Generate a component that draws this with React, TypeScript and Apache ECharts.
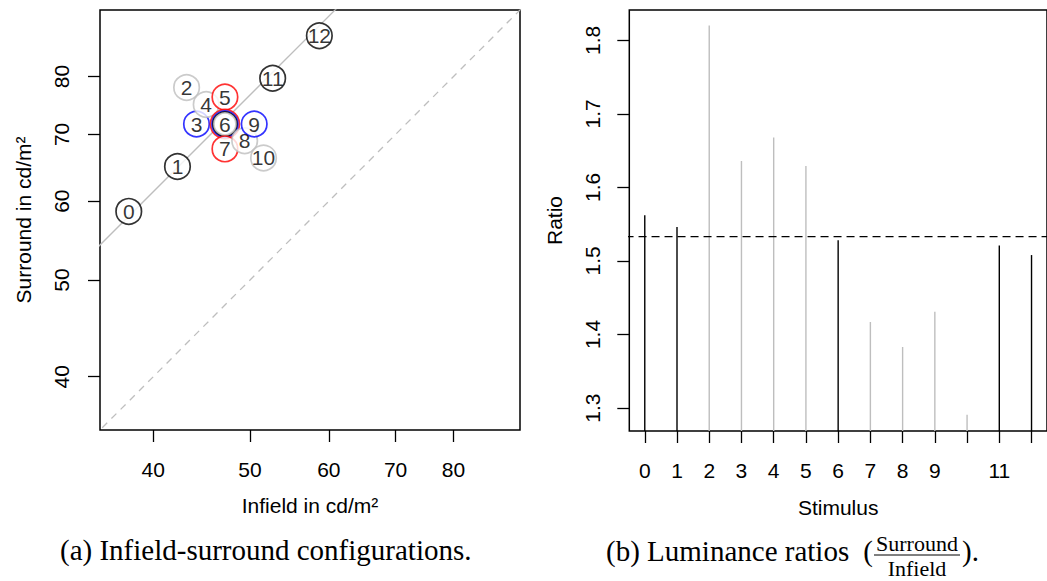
import React, { useEffect, useRef } from 'react';
import * as echarts from 'echarts';

// ---- data ----
const stimuli = [0, 1, 2, 3, 4, 5, 6, 7, 8, 9, 10, 11, 12];
const infield = [37.8, 42.3, 43.2, 44.2, 45.2, 47.2, 47.2, 47.2, 49.4, 50.5, 51.6, 52.7, 58.7];
const surround = [58.6, 65.0, 78.0, 71.7, 75.0, 76.3, 71.7, 67.7, 69.0, 71.7, 66.3, 79.7, 87.9];
const groups = ['black', 'black', 'grey', 'blue', 'grey', 'red', 'all', 'red', 'grey', 'blue', 'grey', 'black', 'black'];
const ratios = [1.562, 1.546, 1.820, 1.636, 1.668, 1.629, 1.528, 1.417, 1.383, 1.431, 1.291, 1.521, 1.508];
const meanRatio = 1.533;
const luminanceTicks = [40, 50, 60, 70, 80];
const ratioTicks = [1.3, 1.4, 1.5, 1.6, 1.7, 1.8];
const stimulusTicks = [0, 1, 2, 3, 4, 5, 6, 7, 8, 9, 10, 11, 12];
const stimulusLabels = [0, 1, 2, 3, 4, 5, 6, 7, 8, 9, 11];

const COLORS: Record<string, string> = { black: '#000000', grey: '#bebebe', blue: '#0000ff', red: '#ff0000' };
const SANS = '"Liberation Sans", Arial, sans-serif';
const SERIF = '"Liberation Serif", "Times New Roman", serif';

const LUM_MIN = 35.37;
const LUM_MAX = 93.3;
const RATIO_MIN = 1.2688;
const RATIO_MAX = 1.8412;

export default function App() {
  const ref = useRef<HTMLDivElement>(null);
  useEffect(() => {
    if (!ref.current) return;
    const chart = echarts.init(ref.current, null, { renderer: 'svg' });
    const ln = Math.log;

    const scatterData: any[] = [];
    stimuli.forEach((s, i) => {
      const g = groups[i];
      const rings = g === 'all'
        ? [{ c: 'red', size: 29 }, { c: 'blue', size: 26 }, { c: 'black', size: 24 }, { c: 'grey', size: 22 }]
        : [{ c: g, size: 25.5 }];
      rings.forEach((r, k) => {
        scatterData.push({
          value: [ln(infield[i]), ln(surround[i])],
          symbolSize: r.size,
          itemStyle: { color: '#ffffff', borderColor: COLORS[r.c], borderWidth: 1.7 },
          label: { show: k === rings.length - 1, formatter: String(s) },
        });
      });
    });

    const axisCommon = {
      axisLine: { show: false, onZero: false },
      splitLine: { show: false },
      axisTick: { show: true, length: 12, lineStyle: { color: '#000', width: 1.3 } },
    };
    const labelStyle = { color: '#000', fontSize: 21, fontFamily: SANS };
    const nameStyle = { color: '#000', fontSize: 21, fontFamily: SANS };

    const option: any = {
      animation: false,
      backgroundColor: '#ffffff',
      grid: [
        { left: 100, top: 10, width: 420, height: 420, show: true, borderColor: '#000', borderWidth: 1.5 },
        { left: 629.3, top: 10, width: 422, height: 421, show: true, borderColor: '#000', borderWidth: 1.5 },
      ],
      xAxis: [
        {
          type: 'value', gridIndex: 0, min: ln(LUM_MIN), max: ln(LUM_MAX), ...axisCommon,
          axisTick: { ...axisCommon.axisTick, customValues: luminanceTicks.map(ln) },
          axisLabel: { ...labelStyle, margin: 29, customValues: luminanceTicks.map(ln), formatter: (v: number) => String(Math.round(Math.exp(v))) },
          name: 'Infield in cd/m²', nameLocation: 'middle', nameGap: 65, nameTextStyle: nameStyle,
        },
        {
          type: 'value', gridIndex: 1, min: -0.48, max: 12.48, ...axisCommon,
          axisTick: { ...axisCommon.axisTick, customValues: stimulusTicks },
          axisLabel: { ...labelStyle, margin: 29, customValues: stimulusLabels, formatter: (v: number) => String(Math.round(v)) },
          name: 'Stimulus', nameLocation: 'middle', nameGap: 66, nameTextStyle: nameStyle,
        },
      ],
      yAxis: [
        {
          type: 'value', gridIndex: 0, min: ln(LUM_MIN), max: ln(LUM_MAX), ...axisCommon,
          axisTick: { ...axisCommon.axisTick, customValues: luminanceTicks.map(ln) },
          axisLabel: { ...labelStyle, margin: 28, rotate: 90, customValues: luminanceTicks.map(ln), formatter: (v: number) => String(Math.round(Math.exp(v))) },
          name: 'Surround in cd/m²', nameLocation: 'middle', nameGap: 66, nameTextStyle: nameStyle,
        },
        {
          type: 'value', gridIndex: 1, min: RATIO_MIN, max: RATIO_MAX, ...axisCommon,
          axisTick: { ...axisCommon.axisTick, customValues: ratioTicks },
          axisLabel: { ...labelStyle, margin: 26, rotate: 90, customValues: ratioTicks, formatter: (v: number) => v.toFixed(1) },
          name: 'Ratio', nameLocation: 'middle', nameGap: 64, nameTextStyle: nameStyle,
        },
      ],
      series: [
        {
          type: 'line', xAxisIndex: 0, yAxisIndex: 0, showSymbol: false, silent: true, z: 1,
          data: [[ln(30), ln(30)], [ln(100), ln(100)]],
          lineStyle: { color: '#bebebe', width: 1.3, type: [7, 6] },
        },
        {
          type: 'line', xAxisIndex: 0, yAxisIndex: 0, showSymbol: false, silent: true, z: 1,
          data: [[ln(30), ln(30 * meanRatio)], [ln(100), ln(100 * meanRatio)]],
          lineStyle: { color: '#bebebe', width: 1.3 },
        },
        {
          type: 'scatter', xAxisIndex: 0, yAxisIndex: 0, z: 3, symbol: 'circle',
          data: scatterData,
          label: { position: 'inside', color: '#000', fontSize: 21, fontFamily: SANS },
        },
        {
          type: 'custom', xAxisIndex: 1, yAxisIndex: 1, z: 2,
          data: stimuli.map((s, i) => [s, ratios[i]]),
          renderItem: (params: any, api: any) => {
            const x = api.value(0);
            const v = api.value(1);
            const top = api.coord([x, v]);
            const bottom = api.coord([x, RATIO_MIN]);
            const g = groups[params.dataIndex];
            const c = g === 'black' || g === 'all' ? '#000' : '#bebebe';
            return {
              type: 'line',
              shape: { x1: top[0], y1: bottom[1], x2: top[0], y2: top[1] },
              style: { stroke: c, lineWidth: 1.4 },
            };
          },
        },
        {
          type: 'line', xAxisIndex: 1, yAxisIndex: 1, showSymbol: false, silent: true, z: 3,
          data: [[-1, meanRatio], [14, meanRatio]],
          lineStyle: { color: '#000', width: 1.3, type: [8, 5] },
        },
      ],
      graphic: [
        { type: 'text', x: 60, y: 550, style: { text: '(a) Infield-surround configurations.', font: `29px ${SERIF}`, fill: '#000', verticalAlign: 'middle', align: 'left' } },
        { type: 'text', x: 606, y: 551, style: { text: '(b) Luminance ratios', font: `29px ${SERIF}`, fill: '#000', verticalAlign: 'middle', align: 'left' } },
        { type: 'text', x: 873, y: 551, style: { text: '(', font: `29px ${SERIF}`, fill: '#000', verticalAlign: 'middle', align: 'right' } },
        { type: 'text', x: 917, y: 543, style: { text: 'Surround', font: `22px ${SERIF}`, fill: '#000', verticalAlign: 'middle', align: 'center' } },
        { type: 'line', shape: { x1: 874, y1: 555, x2: 960, y2: 555 }, style: { stroke: '#000', lineWidth: 1 } },
        { type: 'text', x: 917, y: 568, style: { text: 'Infield', font: `22px ${SERIF}`, fill: '#000', verticalAlign: 'middle', align: 'center' } },
        { type: 'text', x: 962, y: 551, style: { text: ').', font: `29px ${SERIF}`, fill: '#000', verticalAlign: 'middle', align: 'left' } },
      ],
    };
    chart.setOption(option);
    return () => chart.dispose();
  }, []);
  return <div ref={ref} style={{ position: 'absolute', left: 0, top: 0, width: 1047, height: 581 }} />;
}
